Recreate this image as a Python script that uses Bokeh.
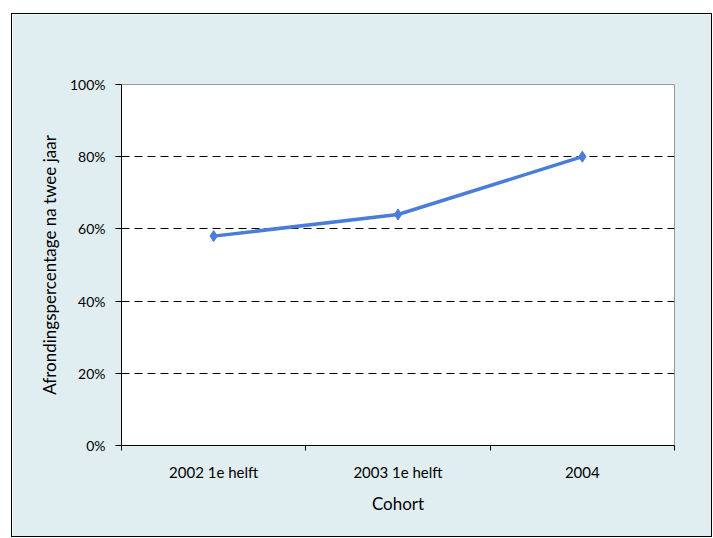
from bokeh.plotting import figure
from bokeh.models import Range1d, FixedTicker, ColumnDataSource
from bokeh.embed import file_html
from bokeh.resources import INLINE

categories = ["2002 1e helft", "2003 1e helft", "2004"]
values = [58, 64, 80]
y_ticks = [0, 20, 40, 60, 80, 100]
y_tick_labels = ["0%", "20%", "40%", "60%", "80%", "100%"]

xs = [i + 0.5 for i in range(len(categories))]
src = ColumnDataSource(data=dict(x=xs, y=values))

FONT = "Lato"
BG = "#E0EEF2"

p = figure(width=701, height=524, output_backend="svg", toolbar_location=None,
           x_range=Range1d(0, len(categories)), y_range=Range1d(0, 100),
           min_border_left=109, min_border_top=70, min_border_right=39, min_border_bottom=93)
p.styles = {"border": "1px solid black", "margin-left": "11px", "margin-top": "13px"}
p.border_fill_color = BG
p.background_fill_color = "white"
p.outline_line_color = "#999999"
p.outline_line_width = 1

p.line("x", "y", source=src, line_color="#4A7DD9", line_width=3.5)
p.scatter("x", "y", source=src, marker="diamond", size=11, fill_color="#4A7DD9", line_color="#4A7DD9")

# x axis
p.xaxis.ticker = FixedTicker(ticks=xs, minor_ticks=list(range(len(categories) + 1)))
p.xaxis.major_label_overrides = {x: c for x, c in zip(xs, categories)}
p.xaxis.major_tick_out = 0
p.xaxis.major_tick_in = 0
p.xaxis.minor_tick_out = 5
p.xaxis.minor_tick_in = 0
p.xaxis.minor_tick_line_color = "black"
p.xaxis.axis_line_color = "black"
p.xaxis.major_label_standoff = 12
p.xaxis.major_label_text_font_size = "15px"
p.xaxis.axis_label = "Cohort"
p.xaxis.axis_label_standoff = 9
p.xgrid.visible = False

# y axis
p.yaxis.ticker = FixedTicker(ticks=y_ticks, minor_ticks=[])
p.yaxis.major_label_overrides = {t: l for t, l in zip(y_ticks, y_tick_labels)}
p.yaxis.major_tick_out = 6
p.yaxis.major_tick_in = 0
p.yaxis.major_tick_line_color = "black"
p.yaxis.axis_line_color = "black"
p.yaxis.major_label_standoff = 10
p.yaxis.major_label_text_font_size = "14px"
p.yaxis.axis_label = "Afrondingspercentage na twee jaar"
p.yaxis.axis_label_standoff = 7

for ax in (p.xaxis, p.yaxis):
    ax.major_label_text_font = FONT
    ax.major_label_text_color = "black"
    ax.axis_label_text_font = FONT
    ax.axis_label_text_font_size = "17px"
    ax.axis_label_text_font_style = "normal"
    ax.axis_label_text_color = "black"

p.ygrid.grid_line_color = "black"
p.ygrid.grid_line_dash = "8 5"
p.ygrid.grid_line_width = 1

open("out.html", "w").write(file_html(p, INLINE))
